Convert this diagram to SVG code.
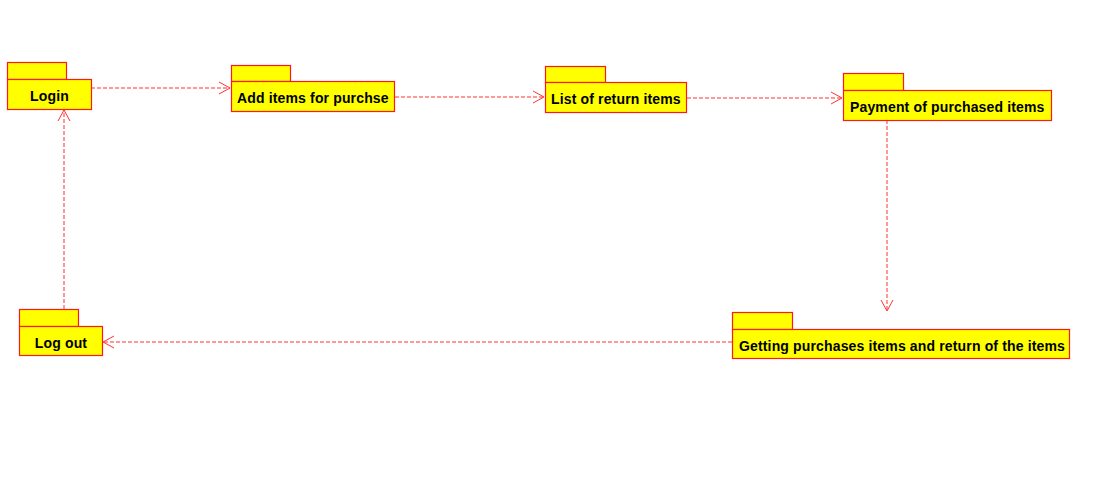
<svg xmlns="http://www.w3.org/2000/svg" width="1114" height="479" viewBox="0 0 1114 479">
<defs>
<style>
.p{fill:#FFFF00;stroke:#FF1A1A;stroke-width:1.2}
.t{font-family:"Liberation Sans",Arial,sans-serif;font-weight:bold;font-size:14px;letter-spacing:0.15px;fill:#000}
.c{fill:none;stroke:#FF3333;stroke-width:1;stroke-dasharray:4,2}
.a{fill:none;stroke:#FF3333;stroke-width:1}
</style>
</defs>
<rect width="1114" height="479" fill="#fff"/>
<g id="connectors">
<line class="c" x1="91" y1="88" x2="230" y2="88"/>
<polyline class="a" points="219,82 230,88 219,94"/>
<line class="c" x1="395" y1="97" x2="544" y2="97"/>
<polyline class="a" points="533,91 544,97 533,103"/>
<line class="c" x1="687" y1="98" x2="842" y2="98"/>
<polyline class="a" points="831,92 842,98 831,104"/>
<line class="c" x1="887" y1="120" x2="887" y2="311"/>
<polyline class="a" points="881,300 887,311 893,300"/>
<line class="c" x1="732" y1="342" x2="103" y2="342"/>
<polyline class="a" points="114,336 103,342 114,348"/>
<line class="c" x1="64" y1="309" x2="64" y2="110"/>
<polyline class="a" points="58,121 64,110 70,121"/>
</g>
<g id="login">
<rect class="p" x="7.5" y="62.5" width="59" height="17"/>
<rect class="p" x="7.5" y="79.5" width="84" height="30"/>
<text class="t" x="49.5" y="101" text-anchor="middle">Login</text>
</g>
<g id="add-items">
<rect class="p" x="231.5" y="65.5" width="59" height="16"/>
<rect class="p" x="231.5" y="81.5" width="163" height="30"/>
<text class="t" x="237" y="103">Add items for purchse</text>
</g>
<g id="list-return">
<rect class="p" x="545.5" y="66.5" width="60" height="16"/>
<rect class="p" x="545.5" y="82.5" width="141" height="30"/>
<text class="t" x="551" y="104">List of return items</text>
</g>
<g id="payment">
<rect class="p" x="843.5" y="73.5" width="60" height="17"/>
<rect class="p" x="843.5" y="90.5" width="208" height="30"/>
<text class="t" x="850" y="112">Payment of purchased items</text>
</g>
<g id="logout">
<rect class="p" x="19.5" y="309.5" width="59" height="17"/>
<rect class="p" x="19.5" y="326.5" width="83" height="29"/>
<text class="t" x="61" y="348" text-anchor="middle">Log out</text>
</g>
<g id="getting">
<rect class="p" x="732.5" y="312.5" width="60" height="17"/>
<rect class="p" x="732.5" y="329.5" width="337" height="29"/>
<text class="t" x="739" y="351">Getting purchases items and return of the items</text>
</g>
</svg>
